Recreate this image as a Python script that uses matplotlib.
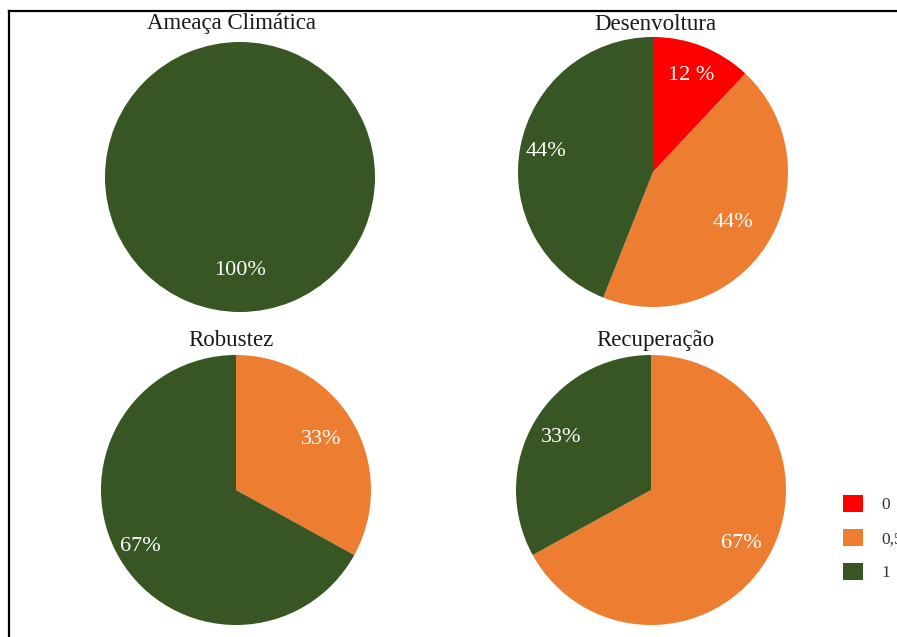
import numpy as np
import matplotlib.pyplot as plt
from matplotlib.lines import Line2D
from matplotlib.patches import Patch

plt.rcParams['font.family'] = ['Liberation Serif', 'DejaVu Serif']

# Daten
titulos = ['Ameaça Climática', 'Desenvoltura', 'Robustez', 'Recuperação']
categorias = ['0', '0,5', '1']
cores = {'0': '#FF0000', '0,5': '#ED7D31', '1': '#375623'}

ameaca_cat = ['1']
ameaca_val = [100]
ameaca_txt = ['100%']

desenv_cat = ['0', '0,5', '1']
desenv_val = [12, 44, 44]
desenv_txt = ['12 %', '44%', '44%']

robustez_cat = ['0,5', '1']
robustez_val = [33, 67]
robustez_txt = ['33%', '67%']

recup_cat = ['0,5', '1']
recup_val = [67, 33]
recup_txt = ['67%', '33%']

W, H = 897, 637
fig = plt.figure(figsize=(W / 100, H / 100), dpi=100)

# Rahmen (nur links und oben sichtbar)
fig.add_artist(Line2D([9 / W, 9 / W], [0, 626 / H], color='black', lw=1.6))
fig.add_artist(Line2D([9 / W, 1], [626 / H, 626 / H], color='black', lw=1.6))

paineis = [
    (titulos[0], ameaca_cat, ameaca_val, ameaca_txt, (240, 177), (231, 24), [0.69]),
    (titulos[1], desenv_cat, desenv_val, desenv_txt, (653, 172), (655, 24), [0.77, 0.70, 0.81]),
    (titulos[2], robustez_cat, robustez_val, robustez_txt, (236, 490), (231, 341), [0.73, 0.82]),
    (titulos[3], recup_cat, recup_val, recup_txt, (651, 490), (655, 341), [0.78, 0.77]),
]

r = 135
for titulo, cats, vals, txts, (cx, cy), (tx, ty), dists in paineis:
    ax = fig.add_axes([(cx - r) / W, (H - cy - r) / H, 2 * r / W, 2 * r / H])
    wedges, _ = ax.pie(vals, colors=[cores[c] for c in cats], startangle=90,
                       counterclock=False, radius=1)
    for w, t, d in zip(wedges, txts, dists):
        ang = np.deg2rad((w.theta1 + w.theta2) / 2)
        ax.text(d * np.cos(ang), d * np.sin(ang), t, color='white', fontsize=16,
                ha='center', va='center')
    ax.set_xlim(-1, 1)
    ax.set_ylim(-1, 1)
    ax.set_aspect('equal')
    ax.axis('off')
    fig.text(tx / W, 1 - ty / H, titulo, fontsize=16.5, ha='center', va='center',
             color='#1a1a1a')

handles = [Patch(facecolor=cores[c], edgecolor='none') for c in categorias]
fig.legend(handles, categorias, loc='upper left', bbox_to_anchor=(843 / W, 1 - 495 / H),
           frameon=False, fontsize=12.5, handlelength=1.15, handleheight=1.15,
           labelspacing=0.88, handletextpad=1.05, borderpad=0, borderaxespad=0,
           labelcolor='#333333')

fig.savefig('out.png', dpi=100)
